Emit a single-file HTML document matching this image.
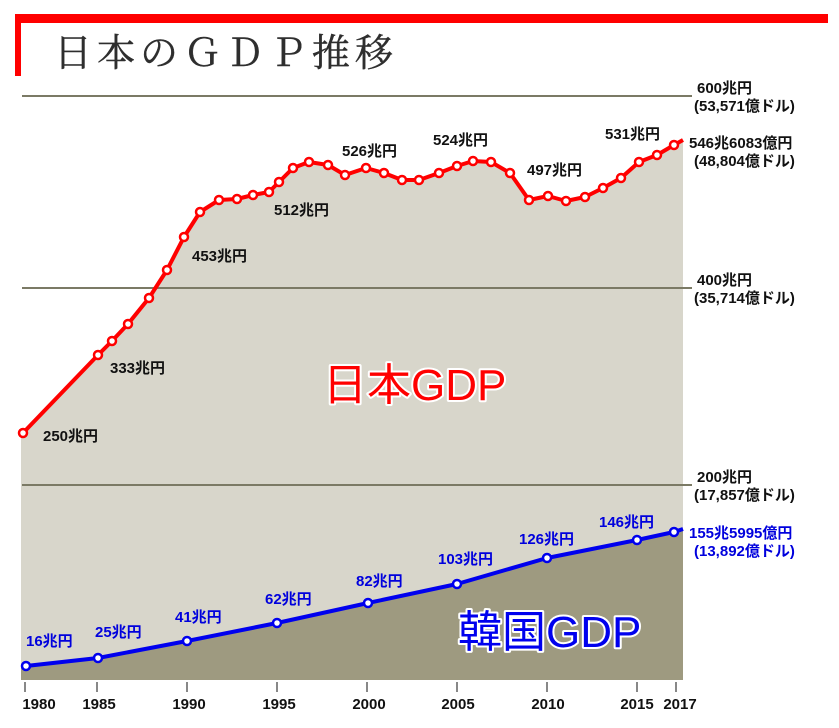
<!DOCTYPE html>
<html><head><meta charset="utf-8"><style>
html,body{margin:0;padding:0;background:#fff;}
svg{display:block;}
.t{font-family:"Liberation Sans","Noto Sans CJK JP",sans-serif;font-size:15px;font-weight:bold;}
.k{fill:#111;}
.b{fill:#0000dd;}
.y{font-family:"Liberation Sans",sans-serif;font-size:15px;font-weight:bold;fill:#111;text-anchor:middle;}
.big{font-family:"Liberation Sans","Noto Sans CJK JP",sans-serif;font-size:44px;paint-order:stroke;stroke:#fff;stroke-width:4px;stroke-linejoin:round;}
</style></head><body>
<svg width="839" height="728" viewBox="0 0 839 728" xmlns="http://www.w3.org/2000/svg">
<rect x="0" y="0" width="839" height="728" fill="#fff"/>
<!-- title -->
<rect x="15" y="14" width="813" height="9" fill="#ff0000"/>
<rect x="15" y="14" width="6" height="62" fill="#ff0000"/>
<text x="54" y="66" font-family="'Liberation Serif','Noto Serif CJK JP','Noto Serif CJK SC',serif" font-size="38" fill="#2e2e2e" stroke="#2e2e2e" stroke-width="0.4" letter-spacing="5">日本のＧＤＰ推移</text>

<!-- Japan fill -->
<polygon fill="#d8d6cb" points="21,680 21,435 23,433 98,355 112,341 128,324 149,298 167,270 184,237 200,212 219,200 237,199 253,195 269,192 279,182 293,168 309,162 328,165 345,175 366,168 384,173 402,180 419,180 439,173 457,166 473,161 491,162 510,173 529,200 548,196 566,201 585,197 603,188 621,178 639,162 657,155 674,145 683,140 683,680"/>
<!-- Korea fill -->
<polygon fill="#9e9a80" points="21,680 21,666 26,666 98,658 187,641 277,623 368,603 457,584 547,558 637,540 674,532 683,529 683,680"/>

<!-- gridlines -->
<g stroke="#7b7a65" stroke-width="2">
<line x1="22" y1="96" x2="692" y2="96"/>
<line x1="22" y1="288" x2="692" y2="288"/>
<line x1="22" y1="485" x2="692" y2="485"/>
</g>

<!-- x ticks -->
<g stroke="#888" stroke-width="2">
<line x1="25" y1="682" x2="25" y2="692"/>
<line x1="97" y1="682" x2="97" y2="692"/>
<line x1="187" y1="682" x2="187" y2="692"/>
<line x1="277" y1="682" x2="277" y2="692"/>
<line x1="367" y1="682" x2="367" y2="692"/>
<line x1="457" y1="682" x2="457" y2="692"/>
<line x1="547" y1="682" x2="547" y2="692"/>
<line x1="637" y1="682" x2="637" y2="692"/>
<line x1="676" y1="682" x2="676" y2="692"/>
</g>
<g class="y">
<text x="39" y="709">1980</text>
<text x="99" y="709">1985</text>
<text x="189" y="709">1990</text>
<text x="279" y="709">1995</text>
<text x="369" y="709">2000</text>
<text x="458" y="709">2005</text>
<text x="548" y="709">2010</text>
<text x="637" y="709">2015</text>
<text x="680" y="709">2017</text>
</g>

<!-- Japan line -->
<polyline fill="none" stroke="#ff0000" stroke-width="4" stroke-linejoin="round" points="23,433 98,355 112,341 128,324 149,298 167,270 184,237 200,212 219,200 237,199 253,195 269,192 279,182 293,168 309,162 328,165 345,175 366,168 384,173 402,180 419,180 439,173 457,166 473,161 491,162 510,173 529,200 548,196 566,201 585,197 603,188 621,178 639,162 657,155 674,145 683,140"/>
<g fill="#fff" stroke="#ff0000" stroke-width="2.5">
<circle cx="23" cy="433" r="4"/><circle cx="98" cy="355" r="4"/><circle cx="112" cy="341" r="4"/><circle cx="128" cy="324" r="4"/><circle cx="149" cy="298" r="4"/><circle cx="167" cy="270" r="4"/><circle cx="184" cy="237" r="4"/><circle cx="200" cy="212" r="4"/><circle cx="219" cy="200" r="4"/><circle cx="237" cy="199" r="4"/><circle cx="253" cy="195" r="4"/><circle cx="269" cy="192" r="4"/><circle cx="279" cy="182" r="4"/><circle cx="293" cy="168" r="4"/><circle cx="309" cy="162" r="4"/><circle cx="328" cy="165" r="4"/><circle cx="345" cy="175" r="4"/><circle cx="366" cy="168" r="4"/><circle cx="384" cy="173" r="4"/><circle cx="402" cy="180" r="4"/><circle cx="419" cy="180" r="4"/><circle cx="439" cy="173" r="4"/><circle cx="457" cy="166" r="4"/><circle cx="473" cy="161" r="4"/><circle cx="491" cy="162" r="4"/><circle cx="510" cy="173" r="4"/><circle cx="529" cy="200" r="4"/><circle cx="548" cy="196" r="4"/><circle cx="566" cy="201" r="4"/><circle cx="585" cy="197" r="4"/><circle cx="603" cy="188" r="4"/><circle cx="621" cy="178" r="4"/><circle cx="639" cy="162" r="4"/><circle cx="657" cy="155" r="4"/><circle cx="674" cy="145" r="4"/>
</g>

<!-- Korea line -->
<polyline fill="none" stroke="#0000ee" stroke-width="4" stroke-linejoin="round" points="26,666 98,658 187,641 277,623 368,603 457,584 547,558 637,540 674,532 683,529"/>
<g fill="#fff" stroke="#0000ee" stroke-width="2.5">
<circle cx="26" cy="666" r="4"/><circle cx="98" cy="658" r="4"/><circle cx="187" cy="641" r="4"/><circle cx="277" cy="623" r="4"/><circle cx="368" cy="603" r="4"/><circle cx="457" cy="584" r="4"/><circle cx="547" cy="558" r="4"/><circle cx="637" cy="540" r="4"/><circle cx="674" cy="532" r="4"/>
</g>

<!-- Japan labels -->
<g class="t k">
<text x="43" y="441">250兆円</text>
<text x="110" y="373">333兆円</text>
<text x="192" y="261">453兆円</text>
<text x="274" y="215">512兆円</text>
<text x="342" y="156">526兆円</text>
<text x="433" y="145">524兆円</text>
<text x="527" y="175">497兆円</text>
<text x="605" y="139">531兆円</text>
<text x="689" y="148">546兆6083億円</text>
<text x="694" y="166">(48,804億ドル)</text>
<text x="697" y="93">600兆円</text>
<text x="694" y="111">(53,571億ドル)</text>
<text x="697" y="285">400兆円</text>
<text x="694" y="303">(35,714億ドル)</text>
<text x="697" y="482">200兆円</text>
<text x="694" y="500">(17,857億ドル)</text>
</g>
<!-- Korea labels -->
<g class="t b">
<text x="26" y="646">16兆円</text>
<text x="95" y="637">25兆円</text>
<text x="175" y="622">41兆円</text>
<text x="265" y="604">62兆円</text>
<text x="356" y="586">82兆円</text>
<text x="438" y="564">103兆円</text>
<text x="519" y="544">126兆円</text>
<text x="599" y="527">146兆円</text>
<text x="689" y="538">155兆5995億円</text>
<text x="694" y="556">(13,892億ドル)</text>
</g>

<text class="big" x="323" y="400" fill="#ff0000">日本GDP</text>
<text class="big" x="458" y="647" fill="#0000ee">韓国GDP</text>
</svg>
</body></html>
